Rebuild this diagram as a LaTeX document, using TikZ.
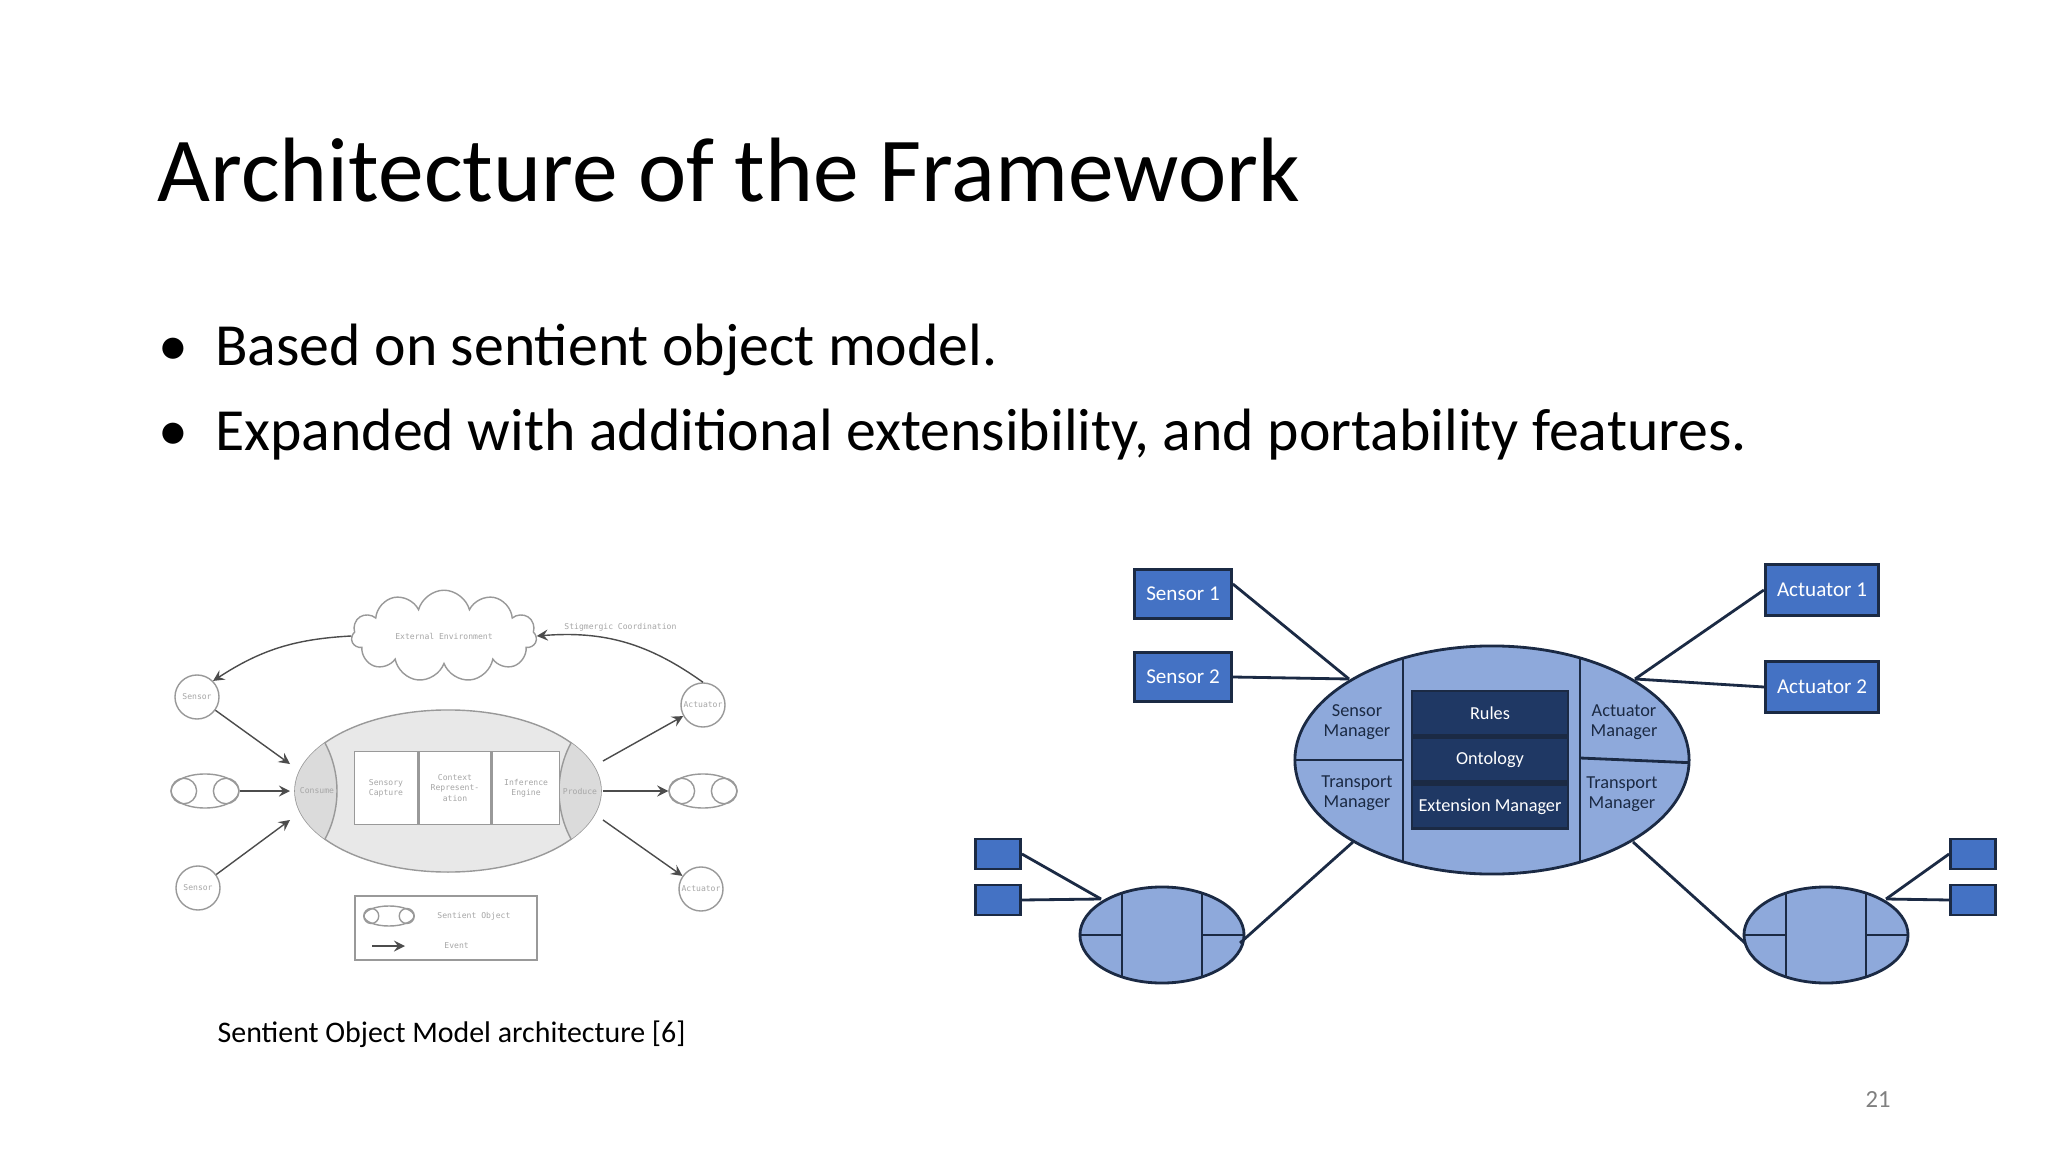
\documentclass[tikz,border=0pt]{standalone}
\usepackage{fontspec}
\setmainfont{Carlito}
\newfontfamily\diagmono{DejaVu Sans Mono}
\usetikzlibrary{arrows,shapes.geometric,shapes.symbols,positioning}
\definecolor{lightblue}{HTML}{8EA9DB}
\definecolor{boxblue}{HTML}{4472C4}
\definecolor{darkblue}{HTML}{1F3864}
\definecolor{lineblue}{HTML}{1B2A44}
\newcommand{\tinytext}{\diagmono\fontsize{2.3}{2.9}\selectfont}
\newcommand{\sentobj}[4]{% name, position, half width, half height
  \node[draw=gray!80, ellipse, minimum width=#3*0.02cm, minimum height=#4*0.02cm, inner sep=0pt] (#1) at (#2) {};
  \draw[gray!80] ([xshift=#4*0.008cm]#1.west) circle [radius=#4*0.75];
  \draw[gray!80] ([xshift=-#4*0.008cm]#1.east) circle [radius=#4*0.75];
}
\begin{document}
\begin{tikzpicture}[x=0.01cm, y=-0.01cm, >=stealth]
	\tikzstyle{grey} = [text=gray!70, font=\tinytext, align=center]
	\tikzstyle{event} = [->, gray!60!black, thin]
	\tikzstyle{dev} = [draw=lineblue, fill=boxblue, text=white, thick, font=\fontsize{6}{7}\selectfont]
	\tikzstyle{mini} = [draw=lineblue, fill=boxblue, thick, minimum width=0.45cm, minimum height=0.3cm, inner sep=0pt]
	\tikzstyle{link} = [lineblue, thick]
	\tikzstyle{part} = [align=center, text=lineblue, font=\fontsize{5.2}{5.8}\selectfont]
	\tikzstyle{core} = [fill=darkblue, draw=lineblue, thick, text=white, minimum width=1.56cm, minimum height=0.44cm, inner sep=0pt, font=\fontsize{5.2}{6}\selectfont]
	\tikzstyle{unit} = [circle, draw=gray!80, minimum size=0.44cm, inner sep=0pt, grey]
	\useasboundingbox (0,0) rectangle (2048,1152);
	\fill[white] (0,0) rectangle (2048,1152);
	% slide text
	\node[anchor=base west, font=\fontsize{26}{30}\selectfont, inner sep=0pt] (title) at (157,202) {Architecture of the Framework};
	\node[anchor=base west, font=\fontsize{17}{20}\selectfont, inner sep=0pt] (b1) at (158,366) {•\hspace{0.45em}Based on sentient object model.};
	\node[anchor=base west, font=\fontsize{17}{20}\selectfont, inner sep=0pt] (b2) at (158,451) {•\hspace{0.45em}Expanded with additional extensibility, and portability features.};
	\node[anchor=base west, font=\fontsize{8.5}{10}\selectfont, inner sep=0pt] (cap) at (217,1042) {Sentient Object Model architecture [6]};
	\node[text=gray, font=\fontsize{7}{8}\selectfont] (page) at (1878,1100) {21};
	% left diagram
	\node[cloud, draw=gray!80, fill=white, cloud puffs=11, aspect=3, minimum width=1.85cm, minimum height=0.7cm, grey] (env) at (444,636) {External Environment};
	\node[grey, anchor=west] (stig) at (552,627) {Stigmergic Coordination};
	\node[ellipse, draw=gray!80, fill=gray!18, minimum width=3.06cm, minimum height=1.62cm] (so) at (448,791) {};
	\begin{scope}
	  \clip (448,791) ellipse [x radius=153, y radius=81];
	  \draw[gray!80, fill=gray!28] (235,791) circle [radius=102];
	  \draw[gray!80, fill=gray!28] (661,791) circle [radius=102];
	\end{scope}
	\node[grey] (cons) at (317,791) {Consume};
	\node[grey] (prod) at (580,791) {Produce};
	\node[draw=gray!80, fill=white, minimum width=0.63cm, minimum height=0.73cm, grey] (cap1) at (386,788) {Sensory\\Capture};
	\node[draw=gray!80, fill=white, minimum width=0.63cm, minimum height=0.73cm, grey, right=0pt of cap1] (cap2) {Context\\Represent-\\ation};
	\node[draw=gray!80, fill=white, minimum width=0.63cm, minimum height=0.73cm, grey, right=0pt of cap2] (cap3) {Inference\\Engine};
	\node[unit] (sen1) at (197,697) {Sensor};
	\node[unit] (sen2) at (198,888) {Sensor};
	\node[unit] (act1) at (703,705) {Actuator};
	\node[unit] (act2) at (701,889) {Actuator};
	\sentobj{soL}{205,791}{34}{17}
	\sentobj{soR}{703,791}{34}{17}
	\coordinate (inTop) at (290,764);
	\coordinate (inMid) at (290,791);
	\coordinate (inBot) at (290,820);
	\coordinate (outTop) at (603,761);
	\coordinate (outMid) at (603,791);
	\coordinate (outBot) at (603,820);
	\draw[event] (sen1) -- (inTop);
	\draw[event] (soL) -- (inMid);
	\draw[event] (sen2) -- (inBot);
	\draw[event] (outTop) -- (act1);
	\draw[event] (outMid) -- (soR);
	\draw[event] (outBot) -- (act2);
	\draw[event] (env.west) to[bend right=15] (sen1.north east);
	\draw[event] (act1.north) to[bend right=20] (env.east);
	% legend
	\node[draw=gray!80, minimum width=1.82cm, minimum height=0.64cm] (legend) at (446,928) {};
	\sentobj{soK}{389,916}{25}{10}
	\node[grey, anchor=west] (lso) at (425,916) {Sentient Object};
	\coordinate (ev1) at (372,946);
	\coordinate (ev2) at (405,946);
	\draw[event] (ev1) -- (ev2);
	\node[grey, anchor=west] (lev) at (432,946) {Event};
	% right diagram
	\node[ellipse, draw=lineblue, fill=lightblue, thick, minimum width=3.94cm, minimum height=2.28cm] (core) at (1492,760) {};
	\begin{scope}
	  \clip (1492,760) ellipse [x radius=197, y radius=114];
	  \draw[link] (1403,600) -- (1403,900);
	  \draw[link] (1580,600) -- (1580,900);
	  \draw[link] (1250,760) -- (1403,760);
	  \draw[link] (1580,758) -- (1720,764);
	\end{scope}
	\node[core] (rules) at (1490,713) {Rules};
	\node[core, below=0pt of rules] (onto) {Ontology};
	\node[core, below=0pt of onto] (ext) {Extension Manager};
	\node[part] (sman) at (1357,722) {Sensor\\Manager};
	\node[part] (tmanL) at (1357,793) {Transport\\Manager};
	\node[part] (aman) at (1624,722) {Actuator\\Manager};
	\node[part] (tmanR) at (1622,794) {Transport\\Manager};
	\node[dev, minimum width=0.94cm, minimum height=0.49cm] (s1) at (1183,594) {Sensor 1};
	\node[dev, minimum width=0.94cm, minimum height=0.49cm] (s2) at (1183,677) {Sensor 2};
	\node[dev, minimum width=1.09cm, minimum height=0.51cm] (a1) at (1822,590) {Actuator 1};
	\node[dev, minimum width=1.09cm, minimum height=0.51cm] (a2) at (1822,687) {Actuator 2};
	\coordinate (coreL) at (1349,679);
	\coordinate (coreR) at (1635,679);
	\draw[link] ([yshift=0.1cm]s1.east) -- (coreL);
	\draw[link] (s2.east) -- (coreL);
	\draw[link] (a1.west) -- (coreR);
	\draw[link] (a2.west) -- (coreR);
	% peer objects
	\foreach \side/\cx/\sx in {L/1162/998, R/1826/1973} {
	  \node[ellipse, draw=lineblue, fill=lightblue, thick, minimum width=1.64cm, minimum height=0.96cm] (peer\side) at (\cx,935) {};
	  \begin{scope}
	    \clip (\cx,935) ellipse [x radius=82, y radius=48];
	    \draw[link] (\cx-40,880) -- (\cx-40,990);
	    \draw[link] (\cx+40,880) -- (\cx+40,990);
	    \draw[link] (\cx-90,935) -- (\cx-40,935);
	    \draw[link] (\cx+40,935) -- (\cx+90,935);
	  \end{scope}
	  \node[mini] (m\side1) at (\sx,854) {};
	  \node[mini] (m\side2) at (\sx,900) {};
	}
	\coordinate (pL) at (1101,899);
	\coordinate (pR) at (1886,899);
	\draw[link] (mL1.east) -- (pL);
	\draw[link] (mL2.east) -- (pL);
	\draw[link] (mR1.west) -- (pR);
	\draw[link] (mR2.west) -- (pR);
	\coordinate (cBL) at (1353,842);
	\coordinate (cBR) at (1633,842);
	\coordinate (pLe) at (1240,943);
	\coordinate (pRw) at (1745,943);
	\draw[link] (cBL) -- (pLe);
	\draw[link] (cBR) -- (pRw);
\end{tikzpicture}
\end{document}
